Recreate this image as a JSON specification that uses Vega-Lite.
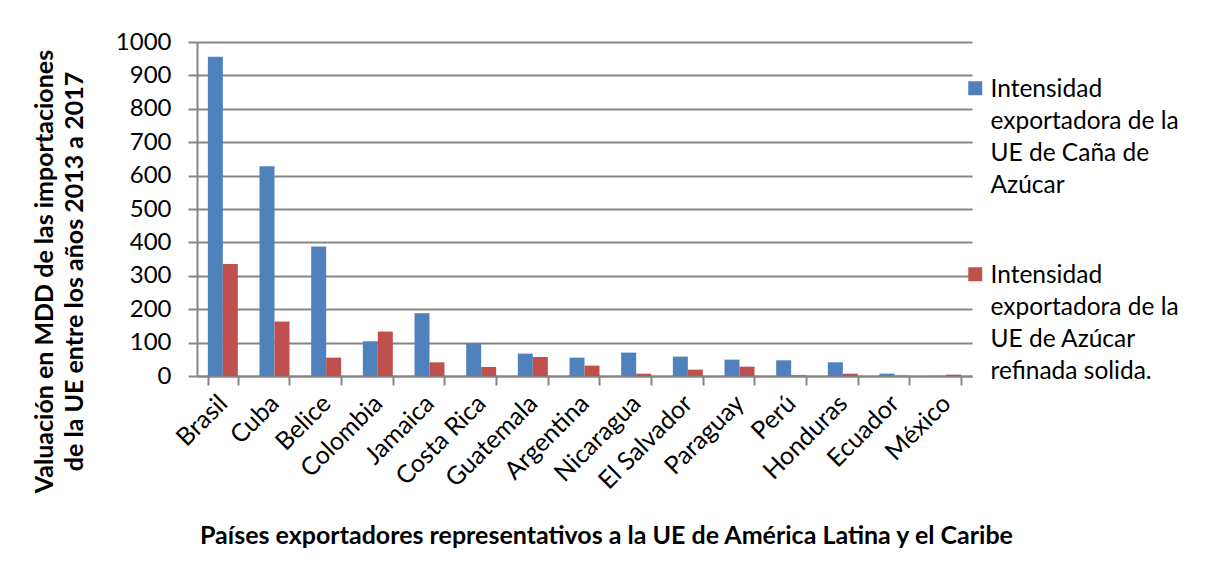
{
  "$schema": "https://vega.github.io/schema/vega-lite/v6.json",
  "width": 775,
  "height": 334,
  "autosize": {"type": "none"},
  "padding": {"left": 197, "top": 42, "right": 236, "bottom": 205},
  "background": "white",
  "config": {
    "view": {"stroke": null},
    "font": "Lato",
    "axis": {"labelFont": "Lato", "titleFont": "Lato", "labelColor": "black", "titleColor": "black"}
  },
  "data": {
    "values": [
      {"pais": "Brasil", "serie": "Caña", "valor": 956},
      {"pais": "Brasil", "serie": "Refinada", "valor": 335},
      {"pais": "Cuba", "serie": "Caña", "valor": 628},
      {"pais": "Cuba", "serie": "Refinada", "valor": 163},
      {"pais": "Belice", "serie": "Caña", "valor": 388},
      {"pais": "Belice", "serie": "Refinada", "valor": 55},
      {"pais": "Colombia", "serie": "Caña", "valor": 104},
      {"pais": "Colombia", "serie": "Refinada", "valor": 133},
      {"pais": "Jamaica", "serie": "Caña", "valor": 188},
      {"pais": "Jamaica", "serie": "Refinada", "valor": 41},
      {"pais": "Costa Rica", "serie": "Caña", "valor": 98},
      {"pais": "Costa Rica", "serie": "Refinada", "valor": 27},
      {"pais": "Guatemala", "serie": "Caña", "valor": 67},
      {"pais": "Guatemala", "serie": "Refinada", "valor": 57},
      {"pais": "Argentina", "serie": "Caña", "valor": 55},
      {"pais": "Argentina", "serie": "Refinada", "valor": 31},
      {"pais": "Nicaragua", "serie": "Caña", "valor": 70},
      {"pais": "Nicaragua", "serie": "Refinada", "valor": 7},
      {"pais": "El Salvador", "serie": "Caña", "valor": 58},
      {"pais": "El Salvador", "serie": "Refinada", "valor": 19},
      {"pais": "Paraguay", "serie": "Caña", "valor": 49},
      {"pais": "Paraguay", "serie": "Refinada", "valor": 28},
      {"pais": "Perú", "serie": "Caña", "valor": 47},
      {"pais": "Perú", "serie": "Refinada", "valor": 2},
      {"pais": "Honduras", "serie": "Caña", "valor": 41},
      {"pais": "Honduras", "serie": "Refinada", "valor": 7},
      {"pais": "Ecuador", "serie": "Caña", "valor": 7},
      {"pais": "Ecuador", "serie": "Refinada", "valor": 1},
      {"pais": "México", "serie": "Caña", "valor": 0.5},
      {"pais": "México", "serie": "Refinada", "valor": 4}
    ]
  },
  "mark": {"type": "bar"},
  "encoding": {
    "x": {
      "field": "pais",
      "type": "nominal",
      "sort": null,
      "scale": {"paddingInner": 0.42, "paddingOuter": 0.21},
      "axis": {
        "title": "Países exportadores representativos a la UE de América Latina y el Caribe",
        "titleFontSize": 25,
        "titleFontWeight": "bold",
        "titleX": 409,
        "titleY": 167,
        "titleBaseline": "alphabetic",
        "titleAlign": "center",
        "labelAngle": -45,
        "labelAlign": "right",
        "labelBaseline": "middle",
        "labelFontSize": 25,
        "labelPadding": 14,
        "labelLimit": 300,
        "tickBand": "extent",
        "tickSize": 9,
        "tickWidth": 2,
        "tickColor": "#868686",
        "domainColor": "#868686",
        "domainWidth": 2,
        "grid": false
      }
    },
    "xOffset": {"field": "serie", "type": "nominal", "sort": ["Caña", "Refinada"], "scale": {"paddingInner": 0, "paddingOuter": 0}},
    "y": {
      "field": "valor",
      "type": "quantitative",
      "scale": {"domain": [0, 1000], "nice": false},
      "axis": {
        "values": [0, 100, 200, 300, 400, 500, 600, 700, 800, 900, 1000],
        "format": "d",
        "title": ["Valuación en MDD de las importaciones", "de la UE entre los años 2013 a 2017"],
        "titleFontSize": 25,
        "titleFontWeight": "bold",
        "titleAngle": -90,
        "titleX": -153,
        "titleY": 229,
        "titleAlign": "center",
        "titleBaseline": "middle",
        "titleLineHeight": 30,
        "labelFontSize": 24,
        "labelPadding": 17,
        "tickSize": 9,
        "tickWidth": 2,
        "tickColor": "#868686",
        "domainColor": "#868686",
        "domainWidth": 2,
        "grid": true,
        "gridColor": "#868686",
        "gridWidth": 2
      }
    },
    "color": {
      "field": "serie",
      "type": "nominal",
      "scale": {"domain": ["Caña", "Refinada"], "range": ["#4F81BD", "#C0504D"]},
      "legend": {
        "title": null,
        "orient": "none",
        "legendX": 766,
        "legendY": 34,
        "padding": 0,
        "symbolType": "square",
        "symbolSize": 196,
        "symbolStrokeWidth": 0,
        "labelFont": "Lato",
        "labelFontSize": 24.5,
        "labelColor": "black",
        "labelBaseline": "top",
        "labelOffset": 3,
        "labelLimit": 400,
        "rowPadding": 64,
        "labelExpr": "datum.label == 'Caña' ? ['Intensidad', 'exportadora de la', 'UE de Caña de', 'Azúcar'] : ['Intensidad', 'exportadora de la', 'UE de Azúcar', 'refinada solida.']",
        "encode": {"labels": {"update": {"lineHeight": {"value": 32}, "dy": {"value": -10}}}}
      }
    }
  }
}
